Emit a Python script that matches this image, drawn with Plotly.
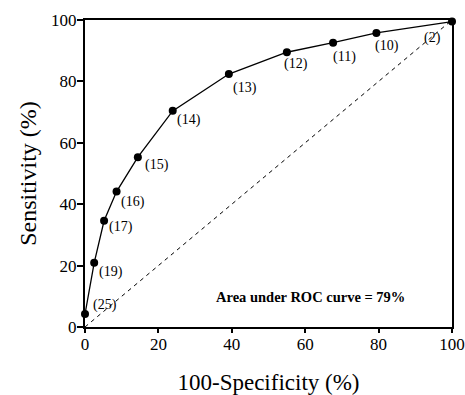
import plotly.graph_objects as go

# ROC curve points (100-Specificity %, Sensitivity %) with cut-off labels
fpr = [0, 2.5, 5.2, 8.6, 14.4, 23.9, 39.2, 55.0, 67.6, 79.4, 100]
tpr = [4.2, 20.9, 34.6, 44.1, 55.3, 70.4, 82.4, 89.5, 92.6, 95.8, 99.5]
cutoffs = ["(25)", "(19)", "(17)", "(16)", "(15)", "(14)", "(13)", "(12)", "(11)", "(10)", "(2)"]
# label offsets in pixels (dx right, dy down)
label_dx = [20, 17, 17, 16, 19, 16, 16, 9, 11, 11, -20]
label_dy = [-9, 9, 6, 10, 8, 9, 14, 12, 14, 13, 16]

diag_x = [0, 100]
diag_y = [0, 100]

x_ticks = [0, 20, 40, 60, 80, 100]
y_ticks = [0, 20, 40, 60, 80, 100]

serif = "Times New Roman, Liberation Serif, serif"

fig = go.Figure()
fig.add_trace(go.Scatter(x=diag_x, y=diag_y, mode="lines",
                         line=dict(color="black", width=1, dash="4px,4px"),
                         hoverinfo="skip", showlegend=False))
fig.add_trace(go.Scatter(x=fpr, y=tpr, mode="lines+markers",
                         line=dict(color="black", width=1.3),
                         marker=dict(color="black", size=8),
                         cliponaxis=False, showlegend=False))

for x, y, t, dx, dy in zip(fpr, tpr, cutoffs, label_dx, label_dy):
    fig.add_annotation(x=x, y=y, text=t, showarrow=False, xshift=dx, yshift=-dy,
                       font=dict(family=serif, size=14, color="black"))

fig.add_annotation(x=61.4, y=9.8, text="<b>Area under ROC curve = 79%</b>", showarrow=False,
                   font=dict(family=serif, size=14.5, color="black"))

axis_common = dict(showline=True, mirror=True, linecolor="black", linewidth=2,
                   ticks="outside", tickwidth=1.5, tickcolor="black",
                   showgrid=False, zeroline=False, range=[0, 100], automargin=False,
                   ticklabelstandoff=-3,
                   tickfont=dict(family=serif, size=17, color="black"))

fig.update_xaxes(**axis_common, tickvals=x_ticks, ticklen=4,
                 title=dict(text="100-Specificity (%)", standoff=23,
                            font=dict(family=serif, size=23, color="black")))
fig.update_yaxes(**axis_common, tickvals=y_ticks, ticklen=6,
                 title=dict(text="Sensitivity (%)", standoff=8,
                            font=dict(family=serif, size=24, color="black")))

fig.update_layout(width=465, height=395, margin=dict(l=85, r=13, t=20, b=68),
                  plot_bgcolor="white", paper_bgcolor="white")

fig.write_html("out.html", config={"displayModeBar": False},
               post_script="document.body.style.margin='0';")
